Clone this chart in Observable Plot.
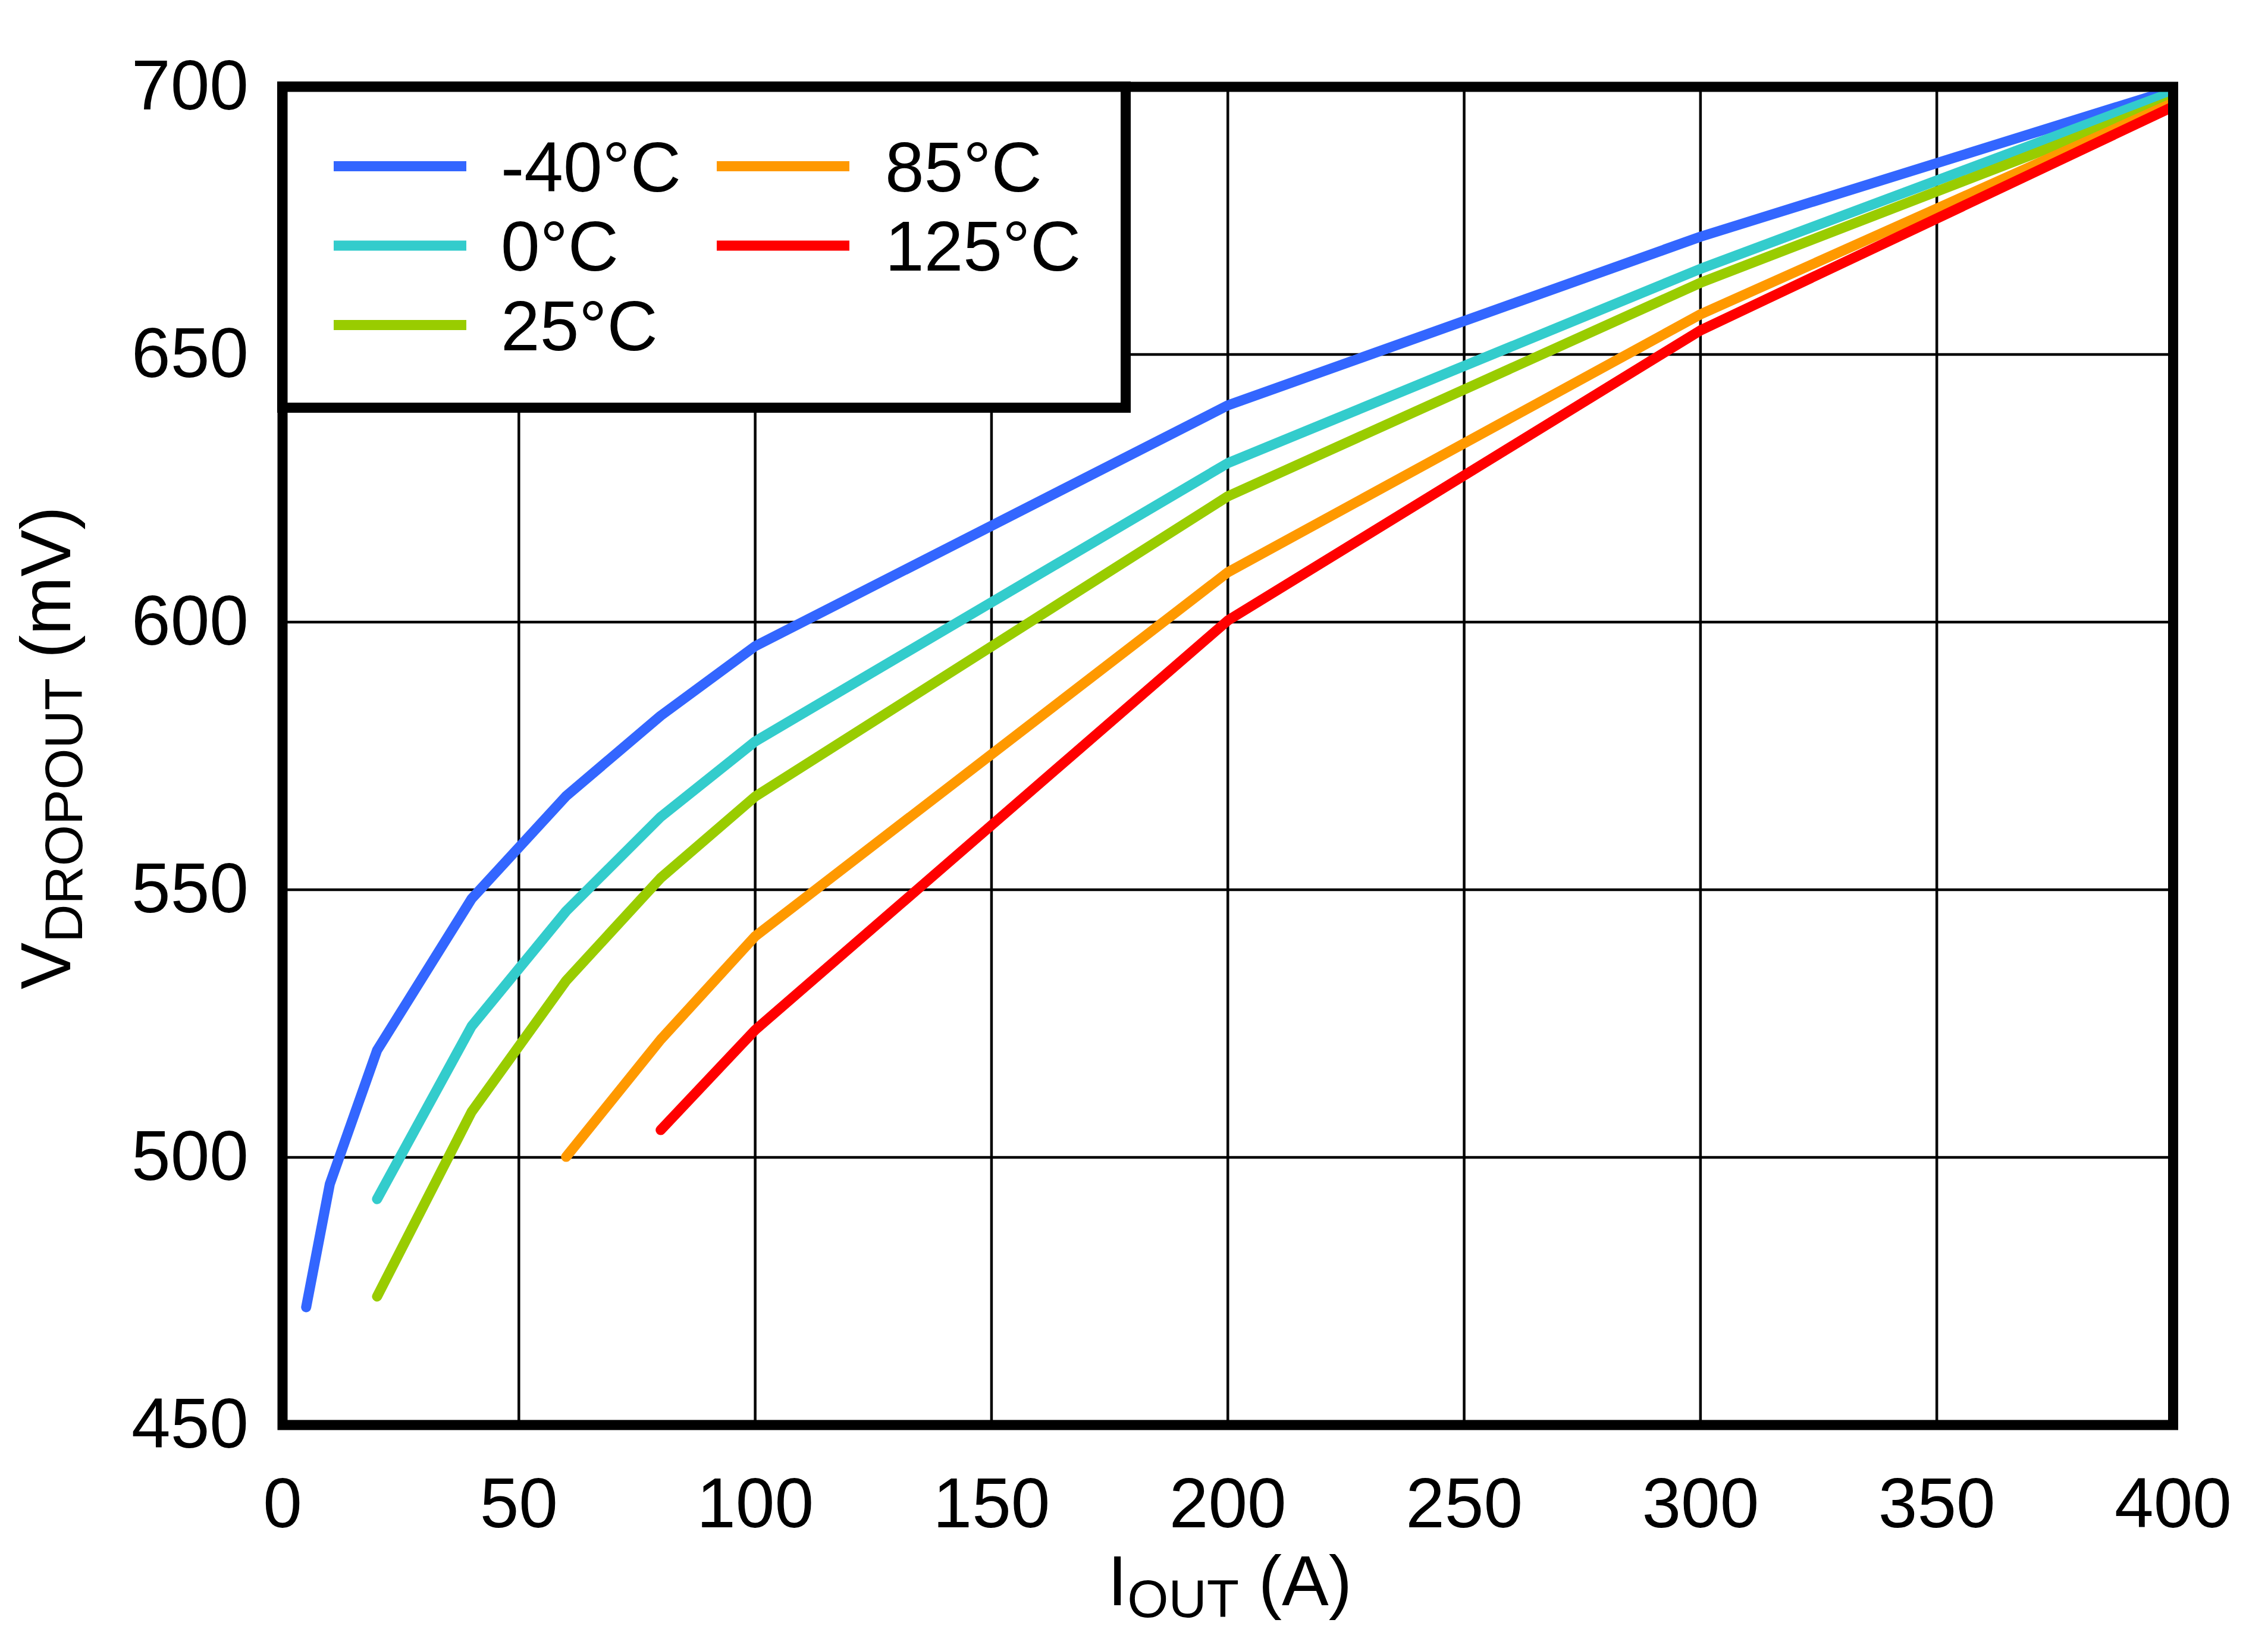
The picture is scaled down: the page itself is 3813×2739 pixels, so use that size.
<!DOCTYPE html>
<html>
<head>
<meta charset="utf-8">
<script src="https://cdn.jsdelivr.net/npm/d3@7"></script>
<script src="https://cdn.jsdelivr.net/npm/@observablehq/plot@0.6"></script>
<style>
  html, body { margin: 0; padding: 0; background: #ffffff; }
  #chart svg { display: block; }
</style>
</head>
<body>
<div id="chart"></div>
<script>
// ---------- data ----------
const seriesNames = ["-40\u00B0C", "0\u00B0C", "25\u00B0C", "85\u00B0C", "125\u00B0C"];
const seriesColors = ["#3366FF", "#33CCCC", "#99CC00", "#FF9900", "#FF0000"];

const iOutM40 = [5, 10, 20, 40, 60, 80, 100, 200, 300, 400];
const vDropM40 = [472, 495, 520, 548.3, 567.5, 582.5, 595.5, 640.5, 672, 699.5];

const iOut0 = [20, 40, 60, 80, 100, 200, 300, 400];
const vDrop0 = [492.2, 524.5, 546, 563.6, 577.7, 629.7, 666, 699];

const iOut25 = [20, 40, 60, 80, 100, 200, 300, 400];
const vDrop25 = [474, 508.5, 533, 552.2, 567.4, 623.5, 663.4, 697.5];

const iOut85 = [60, 80, 100, 200, 300, 400];
const vDrop85 = [500.1, 522, 541.3, 609.3, 657.5, 697];

const iOut125 = [80, 100, 200, 300, 400];
const vDrop125 = [505.1, 523.8, 600.3, 654.5, 696.3];

const xTicks = [0, 50, 100, 150, 200, 250, 300, 350, 400];
const yTicks = [450, 500, 550, 600, 650, 700];

// ---------- build table ----------
const seriesX = [iOutM40, iOut0, iOut25, iOut85, iOut125];
const seriesY = [vDropM40, vDrop0, vDrop25, vDrop85, vDrop125];
const rows = [];
seriesNames.forEach((name, s) => {
  seriesX[s].forEach((x, i) => rows.push({series: name, iout: x, vdrop: seriesY[s][i]}));
});

const FONT = "'Liberation Sans', Arial, Helvetica, sans-serif";
const FS = 118;
const SUB = 89;
const BORDER = 17;

// axis titles with subscripts
function xTitle(index, scales, values, dims) {
  const cx = (dims.marginLeft + dims.width - dims.marginRight) / 2 + 4;
  const t = d3.create("svg:text")
    .attr("x", cx)
    .attr("y", dims.height - dims.marginBottom + 303)
    .attr("text-anchor", "middle")
    .attr("font-family", FONT)
    .attr("font-size", FS)
    .attr("fill", "black");
  t.append("tspan").text("I");
  t.append("tspan").attr("font-size", SUB).attr("dy", 20).text("OUT");
  t.append("tspan").attr("dy", -20).text(" (A)");
  return t.node();
}
function yTitle(index, scales, values, dims) {
  const cy = (dims.marginTop + dims.height - dims.marginBottom) / 2 - 13;
  const x = dims.marginLeft - 356.5;
  const t = d3.create("svg:text")
    .attr("transform", `translate(${x},${cy}) rotate(-90)`)
    .attr("text-anchor", "middle")
    .attr("font-family", FONT)
    .attr("font-size", FS)
    .attr("fill", "black");
  t.append("tspan").text("V");
  t.append("tspan").attr("font-size", SUB).attr("dy", 20).text("DROPOUT");
  t.append("tspan").attr("dy", -20).text(" (mV)");
  return t.node();
}

// legend box inside the frame, top-left
function legendMark(index, scales, values, dims) {
  const g = d3.create("svg:g")
    .attr("transform", `translate(${dims.marginLeft},${dims.marginTop})`);
  g.append("rect")
    .attr("x", 0).attr("y", 0)
    .attr("width", 1418).attr("height", 540)
    .attr("fill", "white")
    .attr("stroke", "black")
    .attr("stroke-width", BORDER);
  const rowsY = [134, 267.5, 401];
  const cols = [{x1: 86.5, x2: 309.5, tx: 367.5}, {x1: 730.5, x2: 953.5, tx: 1013.5}];
  seriesNames.forEach((name, i) => {
    const col = cols[i < 3 ? 0 : 1];
    const cy = rowsY[i < 3 ? i : i - 3];
    g.append("line")
      .attr("x1", col.x1).attr("x2", col.x2)
      .attr("y1", cy).attr("y2", cy)
      .attr("stroke", scales.color(name))
      .attr("stroke-width", 17);
    g.append("text")
      .attr("x", col.tx).attr("y", cy + 42)
      .attr("text-anchor", "start")
      .attr("font-family", FONT)
      .attr("font-size", FS)
      .attr("fill", "black")
      .text(name);
  });
  return g.node();
}

const chart = Plot.plot({
  width: 3813,
  height: 2739,
  marginLeft: 474.5,
  marginRight: 160,
  marginTop: 145.5,
  marginBottom: 343.5,
  style: {fontFamily: FONT, fontSize: FS + "px", background: "white", color: "black"},
  x: {domain: [0, 400], ticks: xTicks},
  y: {domain: [450, 700], ticks: yTicks},
  color: {domain: seriesNames, range: seriesColors},
  marks: [
    Plot.gridX(xTicks, {stroke: "black", strokeOpacity: 1, strokeWidth: 4.5}),
    Plot.gridY(yTicks, {stroke: "black", strokeOpacity: 1, strokeWidth: 4.5}),
    Plot.line(rows, {
      x: "iout", y: "vdrop", z: "series", stroke: "series",
      strokeWidth: 17, strokeLinecap: "round", strokeLinejoin: "round"
    }),
    legendMark,
    Plot.frame({stroke: "black", strokeWidth: BORDER}),
    Plot.axisX(xTicks, {tickSize: 0, tickPadding: 88, fontSize: FS, label: null}),
    Plot.axisY(yTicks, {tickSize: 0, tickPadding: 57, fontSize: FS, label: null}),
    xTitle,
    yTitle
  ]
});

document.getElementById("chart").appendChild(chart);
</script>
</body>
</html>
